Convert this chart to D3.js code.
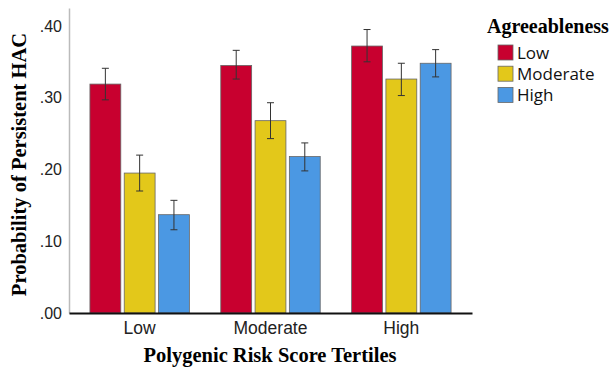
<!DOCTYPE html>
<html>
<head>
<meta charset="utf-8">
<script src="https://cdn.jsdelivr.net/npm/d3@7"></script>
<style>
  body { margin: 0; background: #fff; }
</style>
</head>
<body>
<svg id="chart" width="612" height="371"></svg>
<script>
const groups = ["Low", "Moderate", "High"];
const levels = ["Low", "Moderate", "High"];
// probability means per PRS tertile (rows) and agreeableness level (cols)
const means = [
    [0.319, 0.195, 0.137],
    [0.345, 0.268, 0.218],
    [0.372, 0.326, 0.348]
];
const lower = [
    [0.297, 0.170, 0.116],
    [0.326, 0.243, 0.198],
    [0.350, 0.303, 0.329]
];
const upper = [
    [0.341, 0.220, 0.157],
    [0.366, 0.293, 0.237],
    [0.395, 0.348, 0.367]
];
const yTicks = [0, 0.1, 0.2, 0.3, 0.4];
const colors = ["#c8002f", "#e3c81a", "#4b98e3"];

const svg = d3.select("#chart");
const mLeft = 69, mRight = 472, mTop = 8, mBottom = 313;

const x0 = d3.scaleBand().domain(groups).range([mLeft, mRight])
    .paddingInner(0.24).paddingOuter(0.16);
const x1 = d3.scaleBand().domain(levels).range([0, x0.bandwidth()]).padding(0.1).paddingOuter(0);
const y = d3.scaleLinear().domain([0, 0.425]).range([mBottom, mTop]);

const rows = [];
groups.forEach((g, i) => levels.forEach((l, j) => {
    rows.push({group: g, level: l, j: j, value: means[i][j], lo: lower[i][j], hi: upper[i][j]});
}));

// y axis
const yAxis = svg.append("g")
    .attr("transform", "translate(" + mLeft + ",0)")
    .call(d3.axisLeft(y).tickValues(yTicks).tickSize(0).tickPadding(7)
        .tickFormat(d => d3.format(".2f")(d).replace(/^0/, "")));
yAxis.select(".domain").attr("stroke", "#bbb").attr("stroke-width", 1.5);
yAxis.selectAll("text")
    .style("font-family", "'Liberation Sans', Arial, sans-serif")
    .style("font-size", "16px").attr("fill", "#222");

// bars
const bars = svg.append("g");
bars.selectAll("rect").data(rows).enter().append("rect")
    .attr("x", d => x0(d.group) + x1(d.level))
    .attr("y", d => y(d.value))
    .attr("width", x1.bandwidth())
    .attr("height", d => y(0) - y(d.value))
    .attr("fill", d => colors[d.j])
    .attr("stroke", "#666")
    .attr("stroke-width", 0.8);

// error bars
const err = svg.append("g").attr("stroke", "#333").attr("stroke-width", 1);
const cx = d => x0(d.group) + x1(d.level) + x1.bandwidth() / 2;
err.selectAll(".v").data(rows).enter().append("line")
    .attr("x1", cx).attr("x2", cx)
    .attr("y1", d => y(d.lo)).attr("y2", d => y(d.hi));
err.selectAll(".t").data(rows).enter().append("line")
    .attr("x1", d => cx(d) - 3.5).attr("x2", d => cx(d) + 3.5)
    .attr("y1", d => y(d.hi)).attr("y2", d => y(d.hi));
err.selectAll(".b").data(rows).enter().append("line")
    .attr("x1", d => cx(d) - 3.5).attr("x2", d => cx(d) + 3.5)
    .attr("y1", d => y(d.lo)).attr("y2", d => y(d.lo));

// x axis
const xAxis = svg.append("g")
    .attr("transform", "translate(0," + mBottom + ")")
    .call(d3.axisBottom(x0).tickSize(0).tickPadding(9));
xAxis.select(".domain").attr("stroke", "#111").attr("stroke-width", 2);
xAxis.selectAll("text")
    .style("font-family", "'Liberation Sans', Arial, sans-serif")
    .style("font-size", "17.5px").attr("fill", "#222");

// titles
svg.append("text")
    .attr("transform", "translate(26," + ((mTop + mBottom) / 2 + 4) + ") rotate(-90)")
    .attr("text-anchor", "middle")
    .style("font-family", "'Liberation Serif', 'Times New Roman', serif")
    .style("font-weight", "bold").style("font-size", "20.5px")
    .text("Probability of Persistent HAC");

svg.append("text")
    .attr("x", 270).attr("y", 362)
    .attr("text-anchor", "middle")
    .style("font-family", "'Liberation Serif', 'Times New Roman', serif")
    .style("font-weight", "bold").style("font-size", "20.5px")
    .text("Polygenic Risk Score Tertiles");

// legend
const legend = svg.append("g").attr("transform", "translate(487,0)");
legend.append("text")
    .attr("x", 0).attr("y", 33)
    .style("font-family", "'Liberation Serif', 'Times New Roman', serif")
    .style("font-weight", "bold").style("font-size", "20px")
    .text("Agreeableness");
const items = legend.selectAll(".item").data(levels).enter().append("g")
    .attr("transform", (d, i) => "translate(11," + (45 + i * 21.2) + ")");
items.append("rect")
    .attr("width", 15).attr("height", 15)
    .attr("fill", (d, i) => colors[i])
    .attr("stroke", "#666").attr("stroke-width", 0.8);
items.append("text")
    .attr("x", 19).attr("y", 14)
    .style("font-family", "'Open Sans', sans-serif")
    .style("font-size", "17px").attr("fill", "#111")
    .text(d => d);
</script>
</body>
</html>
